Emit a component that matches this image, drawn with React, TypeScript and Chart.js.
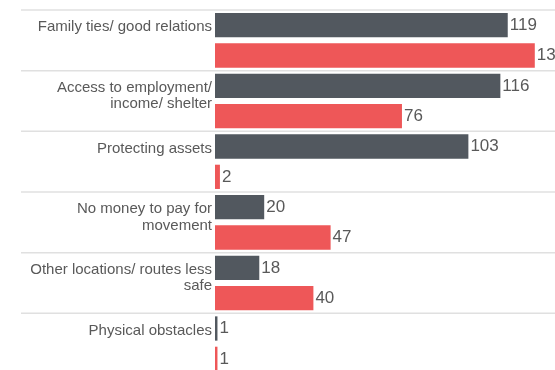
import React, { useEffect, useRef } from 'react';
import { Chart, registerables } from 'chart.js';

Chart.register(...registerables);

const categories: string[][] = [
  ['Family ties/ good relations', ''],
  ['Access to employment/', 'income/ shelter'],
  ['Protecting assets', ''],
  ['No money to pay for', 'movement'],
  ['Other locations/ routes less', 'safe'],
  ['Physical obstacles', ''],
];
const seriesDark = [119, 116, 103, 20, 18, 1];
const seriesRed = [130, 76, 2, 47, 40, 1];

const DARK = '#52585f';
const RED = '#ee5758';
const TEXT = '#595959';
const FONT = '"Liberation Sans", Arial, sans-serif';

const separators = {
  id: 'separators',
  beforeDatasetsDraw(chart: any) {
    const { ctx, scales } = chart;
    const y = scales.y;
    ctx.save();
    ctx.strokeStyle = '#e0e0e0';
    ctx.lineWidth = 1.5;
    for (let i = 0; i <= categories.length; i++) {
      const py = y.getPixelForValue(i - 0.5);
      ctx.beginPath();
      ctx.moveTo(21, py);
      ctx.lineTo(chart.width, py);
      ctx.stroke();
    }
    ctx.restore();
  },
};

const valueLabels = {
  id: 'valueLabels',
  afterDatasetsDraw(chart: any) {
    const ctx = chart.ctx;
    ctx.save();
    ctx.font = `17px ${FONT}`;
    ctx.fillStyle = TEXT;
    ctx.textBaseline = 'middle';
    ctx.textAlign = 'left';
    chart.data.datasets.forEach((ds: any, di: number) => {
      const meta = chart.getDatasetMeta(di);
      meta.data.forEach((bar: any, i: number) => {
        ctx.fillText(String(ds.data[i]), bar.x + 2, bar.y);
      });
    });
    ctx.restore();
  },
};

export default function App() {
  const ref = useRef<HTMLCanvasElement>(null);
  useEffect(() => {
    if (!ref.current) return;
    const chart = new Chart(ref.current, {
      type: 'bar',
      data: {
        labels: categories,
        datasets: [
          { data: seriesDark, backgroundColor: DARK, barPercentage: 0.8, categoryPercentage: 1 },
          { data: seriesRed, backgroundColor: RED, barPercentage: 0.8, categoryPercentage: 1 },
        ],
      },
      options: {
        indexAxis: 'y',
        responsive: false,
        animation: false,
        layout: { padding: { top: 10, bottom: 6, left: 0, right: 0 } },
        plugins: { legend: { display: false }, tooltip: { enabled: false } },
        scales: {
          x: { display: false, min: 0, max: 150 },
          y: {
            border: { display: false },
            grid: { display: false, drawTicks: false },
            afterFit: (s: any) => {
              s.width = 215;
              s.paddingTop = 0;
              s.paddingBottom = 0;
            },
            ticks: {
              color: TEXT,
              padding: 3,
              labelOffset: -5,
              font: { family: FONT, size: 15, lineHeight: 1.1 },
            },
          },
        },
      },
      plugins: [separators, valueLabels],
    });
    return () => chart.destroy();
  }, []);
  return (
    <div style={{ position: 'fixed', left: 0, top: 0, width: 555, height: 370, overflow: 'hidden', background: '#fff' }}>
      <canvas ref={ref} width={584} height={380} style={{ width: 584, height: 380, display: 'block' }} />
    </div>
  );
}
